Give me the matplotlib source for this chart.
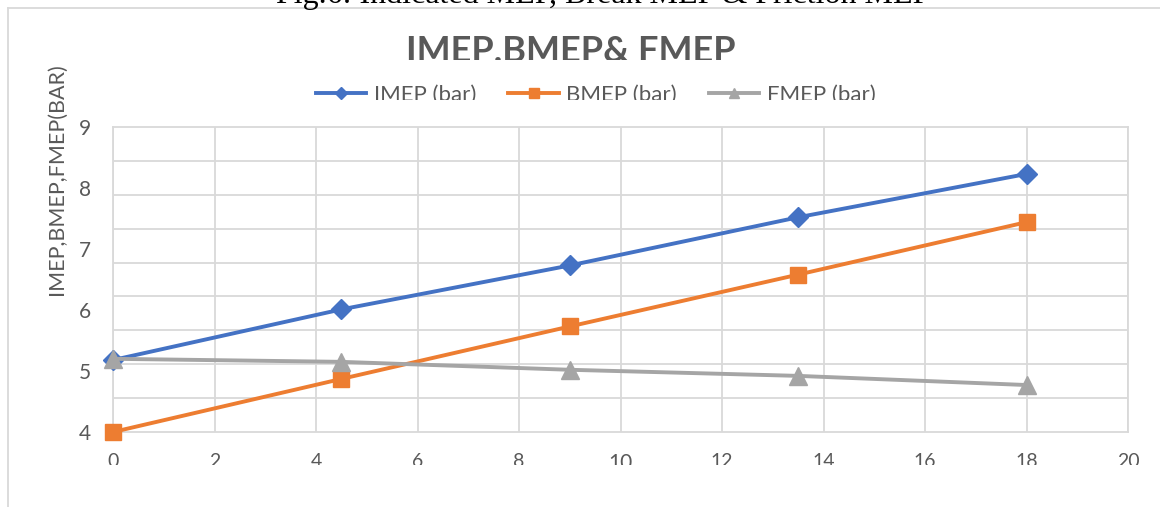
import numpy as np
import matplotlib
matplotlib.use("Agg")
import matplotlib.pyplot as plt
from matplotlib.transforms import Bbox

# data
load = [0, 4.5, 9, 13.5, 18]
imep = [5.18, 6.01, 6.73, 7.52, 8.23]
bmep = [4.00, 4.87, 5.73, 6.58, 7.44]
fmep = [5.20, 5.15, 5.02, 4.92, 4.77]

x_ticks = list(range(0, 21, 2))
y_ticks = [4, 5, 6, 7, 8, 9]

W, H = 1160, 507
txt = '#595959'
grid = '#D9D9D9'
plt.rcParams['font.family'] = ['Lato', 'DejaVu Sans']

fig = plt.figure(figsize=(W / 100, H / 100), dpi=100)
ax = fig.add_axes([113 / W, 1 - 432 / H, (1128 - 113) / W, (432 - 127) / H])


def clip_below(artist, y_px):
    # hide everything lower than y_px (pixels from top)
    artist.set_clip_on(True)
    artist.set_clip_box(Bbox.from_extents(0, H - y_px, W, H))


ax.plot(load, imep, color='#4472C4', lw=2.8, marker='D', ms=10, label='IMEP (bar)',
        zorder=3, clip_on=False)
ax.plot(load, bmep, color='#ED7D31', lw=2.8, marker='s', ms=12, label='BMEP (bar)',
        zorder=3, clip_on=False)
ax.plot(load, fmep, color='#A5A5A5', lw=2.8, marker='^', ms=12.5, label='FMEP (bar)',
        zorder=3, clip_on=False)

ax.set_xlim(0, 20)
ax.set_ylim(4, 9)
ax.set_xticks(x_ticks)
ax.set_yticks(y_ticks)
ax.set_yticks(np.linspace(4, 9, 10), minor=True)
ax.tick_params(axis='both', which='both', length=0, colors=txt)
ax.tick_params(axis='x', pad=15, labelsize=14)
ax.tick_params(axis='y', pad=16, labelsize=15)
ax.grid(True, axis='x', which='major', color=grid, lw=1.3)
ax.grid(True, axis='y', which='minor', color=grid, lw=1.3)
for s in ax.spines.values():
    s.set_color(grid)
    s.set_linewidth(1.3)
ax.set_axisbelow(True)

for lab in ax.get_xticklabels():
    clip_below(lab, 465)
ax.get_xticklabels()[5].set_fontsize(15)

ax.set_ylabel('IMEP,BMEP,FMEP(BAR)', fontsize=15.5, color=txt)
ax.yaxis.set_label_coords(-(113 - 67) / (1128 - 113), (432 - 179) / (432 - 127))

# chart border
fig.add_artist(plt.Line2D([8 / W, 1], [1 - 8 / H, 1 - 8 / H], color=grid, lw=1.3))
fig.add_artist(plt.Line2D([8 / W, 8 / W], [0, 1 - 8 / H], color=grid, lw=1.3))

# caption cut off at the top
fig.text(603 / W, 1 - 3 / H, 'Fig.6: Indicated MEP, Break MEP & Friction MEP',
         family='Liberation Serif', fontsize=23, ha='center', va='baseline', color='black')

title = fig.text(571 / W, 1 - 35 / H, 'IMEP.BMEP& FMEP', fontsize=26, fontweight='bold',
                 color=txt, ha='center', va='top')
clip_below(title, 60)

leg = fig.legend(loc='center', bbox_to_anchor=(596 / W, 1 - 95 / H), ncol=3, frameon=False,
                 fontsize=16, handlelength=2.25, handletextpad=0.36, columnspacing=1.45,
                 markerscale=0.6)
for t in leg.get_texts():
    t.set_color(txt)
    clip_below(t, 100)

fig.savefig('out.png', dpi=100)
